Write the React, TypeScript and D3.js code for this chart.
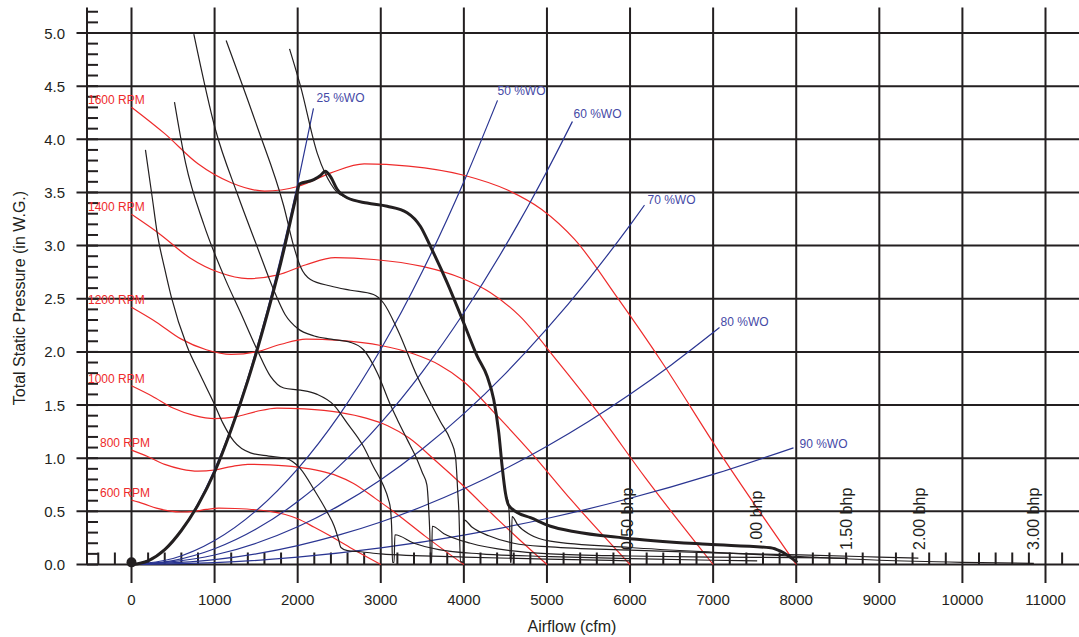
import React from "react";
import * as d3 from "d3";

type Pt = [number, number];

// fan curves (cfm, in W.G.)
const rpm600: Pt[] = [[0, 0.605], [150, 0.57], [300, 0.53], [450, 0.505], [600, 0.494], [750, 0.5], [900, 0.518], [1050, 0.53], [1250, 0.527], [1500, 0.515], [1700, 0.495], [1850, 0.47], [2000, 0.43], [2200, 0.35], [2400, 0.265], [2650, 0.15], [3000, 0]];
const rpm800: Pt[] = [[0, 1.076], [200, 1.013], [400, 0.942], [600, 0.898], [800, 0.878], [1000, 0.889], [1200, 0.921], [1400, 0.942], [1667, 0.937], [2000, 0.916], [2267, 0.88], [2467, 0.836], [2667, 0.764], [2933, 0.622], [3200, 0.471], [3533, 0.267], [4000, 0]];
const rpm1000: Pt[] = [[0, 1.681], [250, 1.583], [500, 1.472], [750, 1.403], [1000, 1.372], [1250, 1.389], [1500, 1.439], [1750, 1.472], [2083, 1.464], [2500, 1.431], [2833, 1.375], [3083, 1.306], [3333, 1.194], [3667, 0.972], [4000, 0.736], [4417, 0.417], [5000, 0]];
const rpm1200: Pt[] = [[0, 2.42], [300, 2.28], [600, 2.12], [900, 2.02], [1200, 1.976], [1500, 2.0], [1800, 2.072], [2100, 2.12], [2500, 2.108], [3000, 2.06], [3400, 1.98], [3700, 1.88], [4000, 1.72], [4400, 1.4], [4800, 1.06], [5300, 0.6], [6000, 0]];
const rpm1400: Pt[] = [[0, 3.294], [350, 3.103], [700, 2.886], [1050, 2.749], [1400, 2.69], [1750, 2.722], [2100, 2.82], [2450, 2.886], [2917, 2.869], [3500, 2.804], [3967, 2.695], [4317, 2.559], [4667, 2.341], [5133, 1.906], [5600, 1.443], [6183, 0.817], [7000, 0]];
const rpm1600: Pt[] = [[0, 4.302], [400, 4.053], [800, 3.769], [1200, 3.591], [1600, 3.513], [2000, 3.556], [2400, 3.684], [2800, 3.769], [3333, 3.748], [4000, 3.662], [4533, 3.52], [4933, 3.342], [5333, 3.058], [5867, 2.489], [6400, 1.884], [7067, 1.067], [8000, 0]];
const rpmLabels = ["600 RPM", "800 RPM", "1000 RPM", "1200 RPM", "1400 RPM", "1600 RPM"];

// system curves (% wide open)
const wo25: Pt[] = [[0, 0], [250, 0.056], [500, 0.224], [750, 0.503], [1000, 0.895], [1250, 1.398], [1500, 2.014], [1750, 2.741], [2000, 3.58], [2190, 4.29]];
const wo50: Pt[] = [[0, 0], [500, 0.056], [1000, 0.225], [1500, 0.506], [2000, 0.9], [2500, 1.406], [3000, 2.025], [3500, 2.756], [4000, 3.6], [4405, 4.366]];
const wo60: Pt[] = [[0, 0], [500, 0.037], [1000, 0.148], [1500, 0.333], [2000, 0.592], [2500, 0.925], [3000, 1.332], [3500, 1.813], [4000, 2.368], [4500, 2.997], [5000, 3.7], [5307, 4.168]];
const wo70: Pt[] = [[0, 0], [1000, 0.089], [1500, 0.2], [2000, 0.355], [2500, 0.554], [3000, 0.798], [3500, 1.087], [4000, 1.419], [4500, 1.796], [5000, 2.218], [5500, 2.683], [6000, 3.193], [6174, 3.381]];
const wo80: Pt[] = [[0, 0], [1000, 0.045], [1500, 0.1], [2000, 0.178], [2500, 0.278], [3000, 0.4], [3500, 0.545], [4000, 0.712], [4500, 0.901], [5000, 1.113], [5500, 1.346], [6000, 1.602], [6500, 1.88], [7077, 2.229]];
const wo90: Pt[] = [[0, 0], [1000, 0.017], [2000, 0.069], [3000, 0.156], [4000, 0.277], [5000, 0.433], [6000, 0.623], [7000, 0.848], [7967, 1.098]];
const woLabels = ["25 %WO", "50 %WO", "60 %WO", "70 %WO", "80 %WO", "90 %WO"];

// brake horsepower curves
const bhp050: Pt[] = [[168, 3.9], [250, 3.45], [309, 3.12], [400, 2.78], [478, 2.52], [670, 2.05], [830, 1.78], [991, 1.52], [1100, 1.33], [1231, 1.16], [1432, 1.05], [1650, 1.02], [1850, 1.0], [2034, 0.9], [2200, 0.7], [2350, 0.5], [2440, 0.36], [2490, 0.24], [2520, 0.16], [2600, 0.13], [2760, 0.12], [3000, 0.1], [4000, 0.07], [5000, 0.05], [6000, 0.035]];
const bhp100: Pt[] = [[517, 4.35], [650, 3.78], [870, 3.2], [1131, 2.68], [1312, 2.37], [1512, 2.02], [1673, 1.77], [1833, 1.66], [2034, 1.64], [2235, 1.6], [2435, 1.5], [2596, 1.33], [2792, 1.11], [2912, 0.92], [3033, 0.74], [3093, 0.61], [3117, 0.52], [3133, 0.3], [3141, 0.02], [3160, 0.02], [3170, 0.28], [3400, 0.2], [3700, 0.14], [4200, 0.1], [5040, 0.075], [6000, 0.055], [7000, 0.04], [7530, 0.035]];
const bhp150: Pt[] = [[750, 4.99], [1011, 4.09], [1272, 3.49], [1512, 2.99], [1713, 2.58], [1850, 2.35], [2000, 2.22], [2200, 2.15], [2400, 2.12], [2636, 2.09], [2792, 2.02], [2960, 1.8], [3117, 1.5], [3201, 1.36], [3322, 1.17], [3418, 1.02], [3502, 0.86], [3555, 0.75], [3575, 0.55], [3590, 0.3], [3600, 0.02], [3612, 0.02], [3620, 0.36], [3760, 0.29], [4080, 0.2], [4560, 0.13], [5040, 0.1], [6000, 0.08], [7000, 0.07], [8000, 0.065], [8620, 0.06]];
const bhp200: Pt[] = [[1139, 4.93], [1512, 4.12], [1833, 3.37], [1950, 3.0], [2034, 2.8], [2154, 2.68], [2395, 2.62], [2636, 2.58], [2912, 2.54], [3033, 2.46], [3201, 2.21], [3438, 1.77], [3599, 1.52], [3720, 1.34], [3839, 1.17], [3899, 1.02], [3915, 0.85], [3925, 0.7], [3940, 0.5], [3960, 0.03], [3990, 0.02], [4000, 0.42], [4100, 0.35], [4300, 0.27], [4600, 0.2], [5040, 0.165], [6000, 0.135], [7000, 0.11], [8050, 0.09], [9000, 0.07], [9470, 0.06]];
const bhp300: Pt[] = [[1902, 4.85], [2034, 4.5], [2235, 3.87], [2330, 3.68], [2400, 3.58], [2475, 3.5], [2595, 3.45], [2836, 3.4], [3077, 3.37], [3317, 3.31], [3478, 3.18], [3599, 2.99], [3800, 2.65], [4000, 2.27], [4160, 1.96], [4280, 1.77], [4360, 1.55], [4420, 1.24], [4460, 0.92], [4500, 0.67], [4535, 0.58], [4550, 0.4], [4560, 0.02], [4570, 0.02], [4580, 0.45], [4650, 0.37], [4800, 0.28], [5040, 0.22], [6000, 0.16], [7000, 0.115], [8050, 0.075], [9000, 0.04], [10000, 0.02], [10860, 0.01]];
const bhpLabels = ["0.50 bhp", ".00 bhp", "1.50 bhp", "2.00 bhp", "3.00 bhp"];

// fan operating limit
const limitCurve: Pt[] = [[0, 0], [200, 0.035], [400, 0.14], [600, 0.32], [800, 0.56], [1000, 0.87], [1200, 1.27], [1400, 1.73], [1600, 2.26], [1800, 2.85], [1994, 3.5], [2020, 3.58], [2194, 3.62], [2275, 3.66], [2330, 3.7], [2395, 3.65], [2475, 3.53], [2595, 3.45], [2836, 3.4], [3077, 3.37], [3317, 3.31], [3478, 3.18], [3599, 2.99], [3800, 2.65], [4000, 2.27], [4160, 1.96], [4280, 1.77], [4360, 1.55], [4420, 1.24], [4461, 0.92], [4501, 0.67], [4537, 0.56], [4642, 0.49], [4802, 0.44], [5043, 0.36], [5320, 0.31], [5921, 0.25], [6928, 0.19], [7690, 0.157], [7811, 0.125], [8012, 0.02]];

const xTicks = [0, 1000, 2000, 3000, 4000, 5000, 6000, 7000, 8000, 9000, 10000, 11000];
const yTicks = [0, 0.5, 1, 1.5, 2, 2.5, 3, 3.5, 4, 4.5, 5];
const yTickLabels = ["0.0", "0.5", "1.0", "1.5", "2.0", "2.5", "3.0", "3.5", "4.0", "4.5", "5.0"];

const W = 1079;
const H = 637;
const x = d3.scaleLinear().domain([0, 11000]).range([131.5, 1045.5]);
const y = d3.scaleLinear().domain([0, 5]).range([564.5, 33]);

const line = d3
  .line<Pt>()
  .x(d => x(d[0]))
  .y(d => y(d[1]))
  .curve(d3.curveMonotoneX);

const INK = "#231f20";
const RED = "#ee2b2b";
const BLUE = "#2a3592";
const BLUE_TEXT = "#4549a6";

export default function App() {
  const fanCurves = [rpm600, rpm800, rpm1000, rpm1200, rpm1400, rpm1600];
  const woCurves = [wo25, wo50, wo60, wo70, wo80, wo90];
  const bhpCurves = [bhp050, bhp100, bhp150, bhp200, bhp300];
  const bhpLabelX = [6030, 7590, 8670, 9550, 10920];
  const woOffsets = [[3, -6], [0, -5], [1, -3], [3, -1], [1, -2], [6, 0]];

  const minorX = d3.range(-400, 11201, 200).filter(v => v < 0 || v % 1000 !== 0);
  const minorY = d3.range(0, 53).map(i => i / 10);

  return (
    <svg
      width={W}
      height={H}
      style={{ position: "absolute", left: 0, top: 0, background: "#fff" }}
      fontFamily="'Liberation Sans', Arial, sans-serif"
    >
      {/* grid */}
      <g stroke={INK} strokeWidth={2}>
        {yTicks.map(v => (
          <line key={"h" + v} x1={76.5} x2={W} y1={y(v)} y2={y(v)} />
        ))}
        {xTicks.map(v => (
          <line key={"v" + v} x1={x(v)} x2={x(v)} y1={y(5.24)} y2={y(-0.175)} />
        ))}
        <line x1={87} x2={87} y1={y(5.24)} y2={y(0)} />
        {minorY.map(v => (
          <line key={"my" + v} x1={87} x2={98} y1={y(v)} y2={y(v)} />
        ))}
        {minorX.map(v => (
          <line key={"mx" + v} x1={x(v)} x2={x(v)} y1={y(0) - 12} y2={y(0)} />
        ))}
      </g>

      {/* tick labels */}
      <g fill={INK} fontSize={15}>
        {yTicks.map((v, i) => (
          <text key={"yl" + v} x={65} y={y(v) + 5.5} textAnchor="end">
            {yTickLabels[i]}
          </text>
        ))}
        {xTicks.map(v => (
          <text key={"xl" + v} x={x(v)} y={605} textAnchor="middle">
            {v}
          </text>
        ))}
      </g>
      <g fill={INK} fontSize={16}>
        <text x={572} y={632} textAnchor="middle">
          Airflow (cfm)
        </text>
        <text transform="translate(25,298) rotate(-90)" textAnchor="middle">
          Total Static Pressure (in W.G.)
        </text>
      </g>

      {/* fan curves */}
      <g fill="none" stroke={RED} strokeWidth={1.2}>
        {fanCurves.map((c, i) => (
          <path key={"rpm" + i} d={line(c) || ""} />
        ))}
      </g>
      <g fill={RED} fontSize={12}>
        {fanCurves.map((c, i) => (
          <text key={"rl" + i} x={x(0) - (i >= 2 ? 43.5 : 31.5)} y={y(c[0][1]) - 3}>
            {rpmLabels[i]}
          </text>
        ))}
      </g>

      {/* system curves */}
      <g fill="none" stroke={BLUE} strokeWidth={1.2}>
        {woCurves.map((c, i) => (
          <path key={"wo" + i} d={line(c) || ""} />
        ))}
      </g>
      <g fill={BLUE_TEXT} fontSize={12}>
        {woCurves.map((c, i) => {
          const last = c[c.length - 1];
          return (
            <text key={"wl" + i} x={x(last[0]) + woOffsets[i][0]} y={y(last[1]) + woOffsets[i][1]}>
              {woLabels[i]}
            </text>
          );
        })}
      </g>

      {/* bhp curves */}
      <g fill="none" stroke={INK} strokeWidth={1.2}>
        {bhpCurves.map((c, i) => (
          <path key={"bhp" + i} d={line(c) || ""} />
        ))}
      </g>
      <g fill={INK} fontSize={16}>
        {bhpLabels.map((t, i) => (
          <text key={"bl" + i} transform={`translate(${x(bhpLabelX[i])},${i === 1 ? 544 : 550}) rotate(-90)`}>
            {t}
          </text>
        ))}
      </g>

      {/* operating limit */}
      <path d={line(limitCurve) || ""} fill="none" stroke={INK} strokeWidth={3} strokeLinejoin="round" />
      <circle cx={x(0)} cy={y(0.02)} r={5} fill={INK} />
    </svg>
  );
}
